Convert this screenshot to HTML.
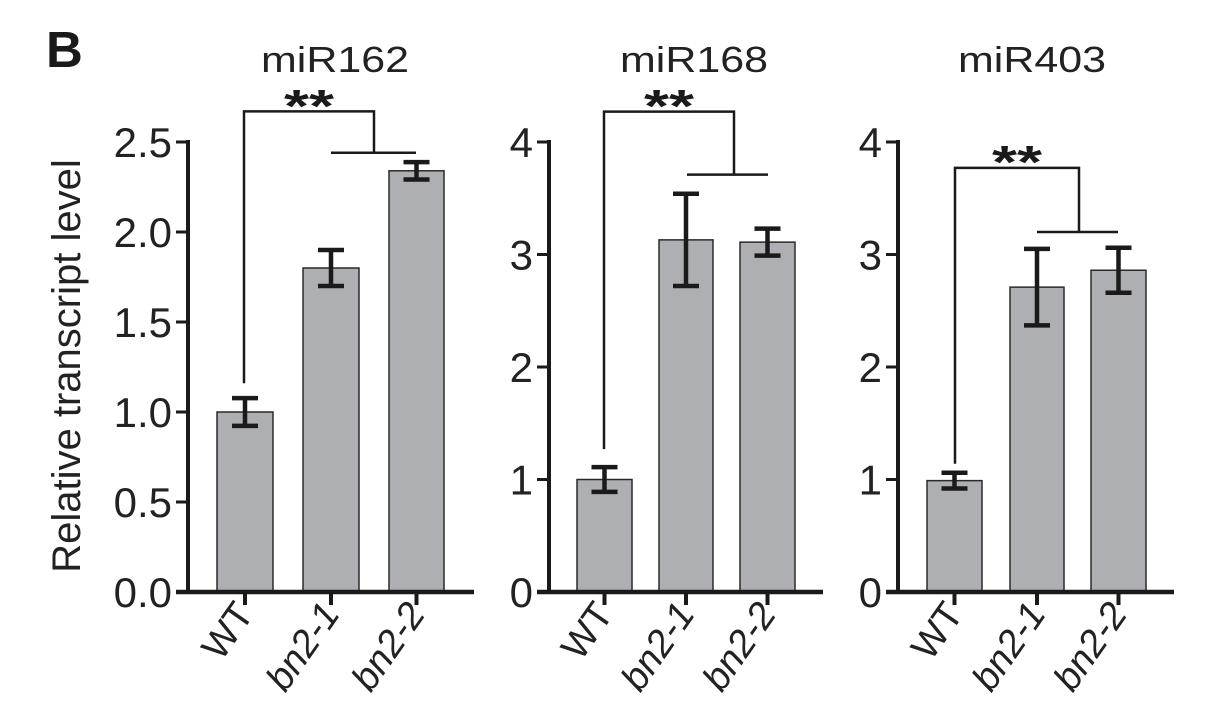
<!DOCTYPE html>
<html><head><meta charset="utf-8">
<style>
html,body{margin:0;padding:0;background:#fff;}
svg{display:block;font-family:"Liberation Sans",Arial,sans-serif;}
</style></head>
<body>
<svg id="fig" width="1209" height="720" viewBox="0 0 1209 720" xmlns="http://www.w3.org/2000/svg">
<text x="46" y="67" font-size="51" font-weight="bold" fill="#1a1a1a">B</text>
<text transform="translate(80,366) rotate(-90)" text-anchor="middle" font-size="40" fill="#222">Relative transcript level</text>
</svg>
<script>
const categories = ["WT", "bn2-1", "bn2-2"];
const titles = ["miR162", "miR168", "miR403"];
const values162 = [1.0, 1.80, 2.34];
const errors162 = [0.077, 0.10, 0.048];
const values168 = [1.0, 3.13, 3.11];
const errors168 = [0.11, 0.41, 0.12];
const values403 = [0.99, 2.71, 2.86];
const errors403 = [0.07, 0.34, 0.20];
const ticks162 = ["0.0", "0.5", "1.0", "1.5", "2.0", "2.5"];
const ticks168 = ["0", "1", "2", "3", "4"];
const ticks403 = ["0", "1", "2", "3", "4"];
const yMax162 = 2.5, yMax168 = 4, yMax403 = 4;
// bracket annotation levels (data units): top, drop, wt-start
const bracket162 = [2.67, 2.44, 1.16];
const bracket168 = [4.27, 3.71, 1.27];
const bracket403 = [3.77, 3.20, 1.14];

const NS = "http://www.w3.org/2000/svg";
const svg = document.getElementById("fig");
function mk(tag, attrs, parent) {
  const e = document.createElementNS(NS, tag);
  for (const k in attrs) e.setAttribute(k, attrs[k]);
  (parent || svg).appendChild(e);
  return e;
}

const panels = [
  {key:"mir162", title:titles[0], vals:values162, errs:errors162, ticks:ticks162, yMax:yMax162, br:bracket162,
   axisX:188, xEnd:474, bars:[[217,273],[303,359],[389,444]], titleX:335, brX:[244,374,331,416], starY:108},
  {key:"mir168", title:titles[1], vals:values168, errs:errors168, ticks:ticks168, yMax:yMax168, br:bracket168,
   axisX:549, xEnd:823, bars:[[577,632],[659,713],[740,795]], titleX:694, brX:[604,734,687,768], starY:108},
  {key:"mir403", title:titles[2], vals:values403, errs:errors403, ticks:ticks403, yMax:yMax403, br:bracket403,
   axisX:898, xEnd:1174, bars:[[927,982],[1010,1064],[1091,1146]], titleX:1032, brX:[955,1079,1037,1118], starY:164}
];
const Y0 = 592, YTOP = 142;

panels.forEach(p => {
  const y = v => Y0 - (v / p.yMax) * (Y0 - YTOP);
  const g = mk("g", {});
  
  

  const t = mk("text", {x:p.titleX, y:72, "text-anchor":"middle", "font-size":36, textLength:148, lengthAdjust:"spacingAndGlyphs", fill:"#222"}, g);
  t.textContent = p.title;
  
  

  // bars
  p.vals.forEach((v, i) => {
    const [x1, x2] = p.bars[i];
    const r = mk("rect", {x:x1, y:y(v), width:x2-x1, height:Y0-y(v), fill:"#aeafb2", stroke:"#2a2a2a", "stroke-width":1.5}, g);
    
    
    const cx = (x1 + x2) / 2, e = p.errs[i];
    const eb = mk("path", {d:`M${cx},${y(v+e)}V${y(v-e)}M${cx-13},${y(v+e)}H${cx+13}M${cx-13},${y(v-e)}H${cx+13}`, stroke:"#1a1a1a", "stroke-width":4.5, fill:"none"}, g);
    
    
    const tk = mk("line", {x1:cx, y1:Y0, x2:cx, y2:Y0+13, stroke:"#1a1a1a", "stroke-width":4}, g);
    
    
    const lab = mk("text", {transform:`translate(${cx+10},${Y0+22}) rotate(-55)`, "text-anchor":"end", "font-size":38, "font-style": i===0 ? "normal" : "italic", fill:"#222"}, g);
    lab.textContent = categories[i];
    
    
  });

  // axes
  const ya = mk("line", {x1:p.axisX, y1:YTOP-2, x2:p.axisX, y2:Y0+2, stroke:"#1a1a1a", "stroke-width":4}, g);
  
  
  const xa = mk("line", {x1:p.axisX-12, y1:Y0, x2:p.xEnd, y2:Y0, stroke:"#1a1a1a", "stroke-width":4.5}, g);
  
  
  p.ticks.forEach((lbl, i) => {
    const v = i * p.yMax / (p.ticks.length - 1);
    const tk = mk("line", {x1:p.axisX-12, y1:y(v), x2:p.axisX, y2:y(v), stroke:"#1a1a1a", "stroke-width":3}, g);
    
    
    const tl = mk("text", {x:p.axisX-16, y:y(v)+15, "text-anchor":"end", "font-size":42, fill:"#222"}, g);
    tl.textContent = lbl;
    
    
  });

  // significance bracket
  const [bl, br, hx1, hx2] = p.brX;
  const [top, drop, start] = p.br;
  const b = mk("path", {d:`M${bl},${y(start)}V${y(top)}H${br}V${y(drop)}M${hx1},${y(drop)}H${hx2}`, stroke:"#1a1a1a", "stroke-width":2.5, fill:"none"}, g);
  
  
  const s = mk("text", {x:(bl+br)/2, y:p.starY+14, "text-anchor":"middle", "font-size":46, "font-weight":"bold", textLength:50, lengthAdjust:"spacingAndGlyphs", fill:"#1a1a1a"}, g);
  s.textContent = "**";
  
  
});
</script>
</body></html>
